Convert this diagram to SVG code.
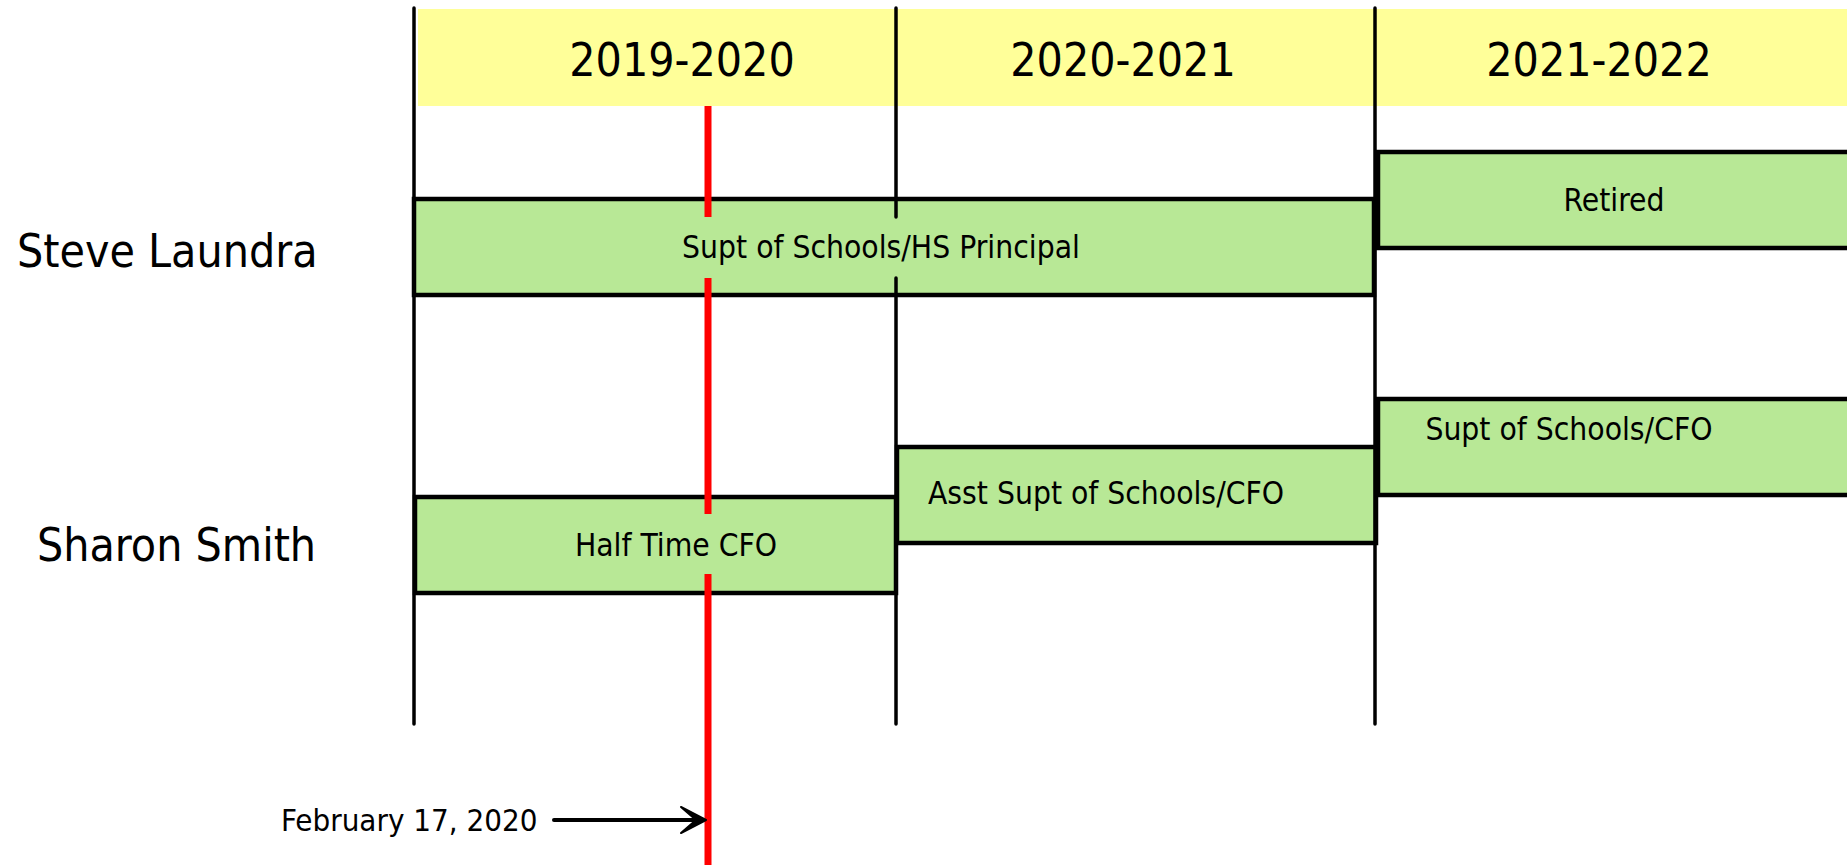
<svg xmlns="http://www.w3.org/2000/svg" width="1847" height="865" viewBox="0 0 1847 865">
  <style>
    text { font-family: "DejaVu Sans Condensed", "DejaVu Sans", sans-serif; font-stretch: condensed; fill: #000; }
    .year { font-size: 46px; text-anchor: middle; }
    .name { font-size: 46px; }
    .bar { fill: #b8e896; stroke: #000; stroke-width: 4.5; }
    .bar-label { font-size: 31.5px; text-anchor: middle; }
    .grid { stroke: #000; stroke-width: 3.5; stroke-linecap: round; fill: none; }
    .today { stroke: #ff0000; stroke-width: 7; fill: none; }
    .note { font-size: 31px; }
    .arrow { stroke: #000; stroke-width: 4; stroke-linecap: round; fill: none; }
  </style>
  <defs>
    <marker id="stealth" markerUnits="userSpaceOnUse" markerWidth="32" markerHeight="32" viewBox="-30 -16 32 32" refX="0" refY="0" orient="auto">
      <path d="M-25,-13 L0,0 L-25,13 L-10,0 Z" fill="#000" stroke="#000" stroke-width="2" stroke-linejoin="round"/>
    </marker>
  </defs>

  <rect width="1847" height="865" fill="#ffffff"/>

  <!-- school-year header band -->
  <g id="header">
    <rect x="418" y="9" width="1429" height="97" fill="#ffff99"/>
    <text class="year" x="682" y="76">2019-2020</text>
    <text class="year" x="1123" y="76">2020-2021</text>
    <text class="year" x="1599" y="76">2021-2022</text>
  </g>

  <!-- people -->
  <g id="person-laundra"><text class="name" x="17" y="267">Steve Laundra</text></g>
  <g id="person-smith"><text class="name" x="37" y="561">Sharon Smith</text></g>

  <!-- role bars -->
  <g id="role-laundra-supt-hs">
    <rect class="bar" x="414" y="199" width="960" height="96"/>
    <text class="bar-label" x="881" y="258">Supt of Schools/HS Principal</text>
  </g>
  <g id="role-laundra-retired">
    <rect class="bar" x="1378" y="152" width="480" height="96"/>
    <text class="bar-label" x="1614" y="211">Retired</text>
  </g>
  <g id="role-smith-half-cfo">
    <rect class="bar" x="415" y="497" width="481" height="96"/>
    <text class="bar-label" x="676" y="556">Half Time CFO</text>
  </g>
  <g id="role-smith-asst-supt">
    <rect class="bar" x="897" y="447" width="479" height="96"/>
    <text class="bar-label" x="1106" y="504">Asst Supt of Schools/CFO</text>
  </g>
  <g id="role-smith-supt">
    <rect class="bar" x="1378" y="399" width="480" height="96"/>
    <text class="bar-label" x="1569" y="440">Supt of Schools/CFO</text>
  </g>

  <!-- year boundaries and the date marker (broken where they pass behind bar labels) -->
  <g id="timeline">
    <line class="grid" x1="414" y1="8" x2="414" y2="724"/>
    <line class="grid" x1="896" y1="8" x2="896" y2="217"/>
    <line class="grid" x1="896" y1="278" x2="896" y2="724"/>
    <line class="grid" x1="1375" y1="8" x2="1375" y2="724"/>
    <line class="today" x1="708" y1="106" x2="708" y2="217"/>
    <line class="today" x1="708" y1="278" x2="708" y2="514"/>
    <line class="today" x1="708" y1="574" x2="708" y2="865"/>
  </g>

  <!-- connectors -->
  <g id="connectors">
    <line class="arrow" x1="554" y1="820" x2="698" y2="820"/>
    <line x1="698" y1="820" x2="706" y2="820" stroke="none" marker-end="url(#stealth)"/>
  </g>
  <g id="date-note"><text class="note" x="281" y="831">February 17, 2020</text></g>
</svg>
